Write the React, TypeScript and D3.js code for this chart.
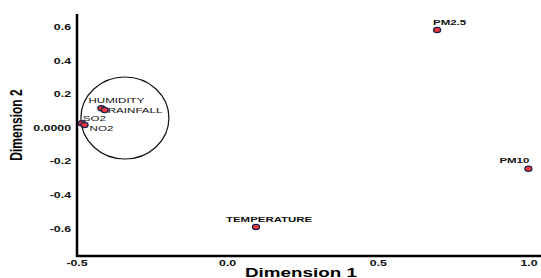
import React from "react";
import * as d3 from "d3";

// MDS result, dimension 1 / dimension 2
const names = ["PM2.5", "PM10", "TEMPERATURE", "HUMIDITY", "RAINFALL", "SO2", "NO2"];
const dim1 = [0.695, 0.998, 0.094, -0.419, -0.408, -0.484, -0.475];
const dim2 = [0.586, -0.24, -0.586, 0.12, 0.11, 0.031, 0.021];

const xTicks = [-0.5, 0.0, 0.5, 1.0];
const xTickLabels = ["-0.5", "0.0", "0.5", "1.0"];
const yTicks = [0.6, 0.4, 0.2, 0.0, -0.2, -0.4, -0.6];
const yTickLabels = ["0.6", "0.4", "0.2", "0.0000", "-0.2", "-0.4", "-0.6"];

// cluster ring drawn around the small group
const ringCenter = [-0.341, 0.0625];
const ringRadius = [0.146, 0.244];

// label placement (pixels relative to point)
const labelOffset: Record<string, [number, number]> = {
  "PM2.5": [-4, -5],
  PM10: [-29, -6],
  TEMPERATURE: [-30, -5],
  HUMIDITY: [-13, -5],
  RAINFALL: [3, 3],
  SO2: [1, -2.5],
  NO2: [5, 6],
};
const boldLabels = ["PM2.5", "PM10", "TEMPERATURE"];

const W = 541, H = 278;
const SX = 1.45; // the original picture is stretched sideways
const font = "Arial, 'Liberation Sans', sans-serif";

export default function App() {
  const x = d3.scaleLinear().domain([-0.5, 1.0]).range([77, 529]);
  const y = d3.scaleLinear().domain([-0.6, 0.6]).range([229.3, 27.7]);
  const left = 77, bottom = 256, top = 14;

  const pts = names.map((n, i) => ({ name: n, x: dim1[i], y: dim2[i] }));

  return (
    <svg width={W} height={H} style={{ position: "absolute", left: 0, top: 0, background: "#fff" }}
      fontFamily={font}>
      {/* axes */}
      <line x1={left} x2={left} y1={top} y2={bottom + 1} stroke="#000" strokeWidth={2.5} />
      <line x1={left - 1} x2={W} y1={bottom} y2={bottom} stroke="#000" strokeWidth={2.5} />

      {yTicks.map((t, i) => (
        <text key={"y" + i} transform={`translate(71,${y(t)}) scale(${SX},1)`} textAnchor="end"
          dominantBaseline="middle" fontSize={8.5} fontWeight="bold" fill="#111">
          {yTickLabels[i]}
        </text>
      ))}
      {xTicks.map((t, i) => (
        <text key={"x" + i} transform={`translate(${x(t)},264) scale(${SX},1)`} textAnchor="middle"
          dominantBaseline="middle" fontSize={8.5} fontWeight="bold" fill="#111">
          {xTickLabels[i]}
        </text>
      ))}

      {/* axis titles */}
      <text transform={`translate(301,276.5) scale(${SX},1)`} textAnchor="middle" fontSize={13}
        fontWeight="bold" fill="#000">Dimension 1</text>
      <text transform={`translate(22,125) scale(${SX},1) rotate(-90)`} textAnchor="middle" fontSize={12}
        fontWeight="bold" fill="#000">Dimension 2</text>

      {/* ring */}
      <ellipse cx={x(ringCenter[0])} cy={y(ringCenter[1])}
        rx={x(ringCenter[0] + ringRadius[0]) - x(ringCenter[0])}
        ry={y(ringCenter[1] - ringRadius[1]) - y(ringCenter[1])}
        fill="none" stroke="#111" strokeWidth={1.2} />

      {/* points */}
      {pts.map((p) => (
        <ellipse key={p.name} cx={x(p.x)} cy={y(p.y)} rx={3.5} ry={2.6}
          fill="#f2383c" stroke="#17214a" strokeWidth={1.3} />
      ))}
      {pts.map((p) => {
        const [dx, dy] = labelOffset[p.name];
        const bold = boldLabels.includes(p.name);
        return (
          <text key={"l" + p.name} transform={`translate(${x(p.x) + dx},${y(p.y) + dy}) scale(${SX},1)`}
            fontSize={bold ? 7.9 : 8} fontWeight={bold ? "bold" : "normal"} fill="#111">
            {p.name}
          </text>
        );
      })}
    </svg>
  );
}
